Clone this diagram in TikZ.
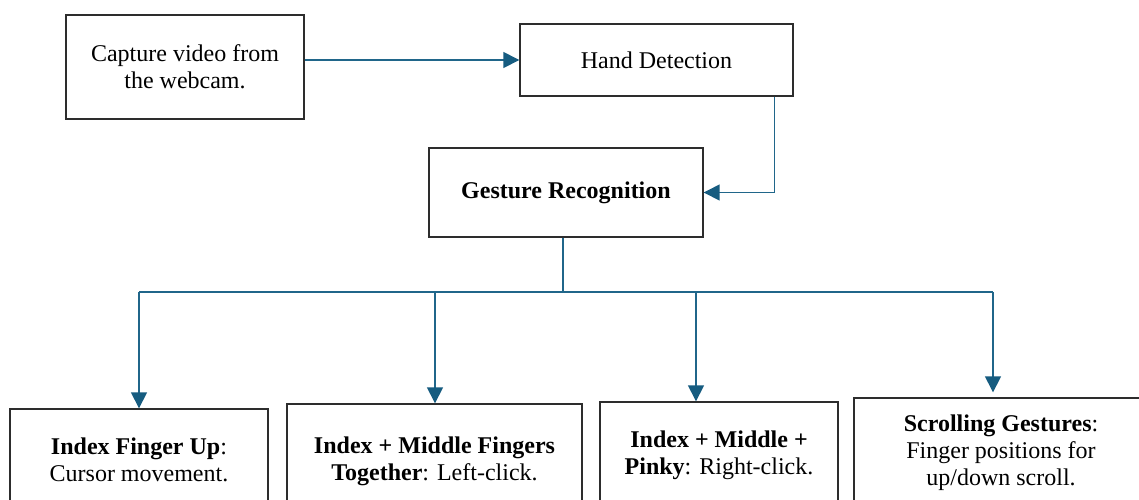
\documentclass[tikz,border=0pt]{standalone}
\usepackage{fontspec}
\setmainfont{Liberation Serif}
\usetikzlibrary{arrows.meta}
\definecolor{conncol}{RGB}{32,102,138}
\definecolor{tipcol}{RGB}{22,92,128}
\definecolor{boxcol}{RGB}{45,45,45}
\tikzset{
  stepbox/.style={draw=boxcol, line width=1.4pt, fill=white, align=center, inner sep=0pt,
    font=\fontsize{24}{27}\selectfont},
  conn/.style={draw=conncol, line width=1.5pt,
    -{Triangle[length=16pt,width=16pt,fill=tipcol,color=tipcol]}},
  bus/.style={draw=conncol, line width=1.5pt}
}
\begin{document}
\begin{tikzpicture}[x=1pt,y=-1pt]
\useasboundingbox (0,0) rectangle (1139,499);
\clip (0,0) rectangle (1139,499);
\fill[white] (0,0) rectangle (1139,499);
\node[stepbox, minimum width=238, minimum height=104] (cap) at (185,67) {Capture video from\\the webcam.};
\node[stepbox, minimum width=273, minimum height=72] (hand) at (656.5,60) {Hand Detection};
\node[stepbox, minimum width=274, minimum height=89] (gr) at (566,192.5) {\textbf{Gesture Recognition}};
\node[stepbox, minimum width=258, minimum height=102] (b1) at (139,460) {\textbf{Index Finger Up}:\\Cursor movement.};
\node[stepbox, minimum width=295, minimum height=114] (b2) at (434.5,461) {\textbf{Index + Middle Fingers}\\\textbf{Together}: Left-click.};
\node[stepbox, minimum width=238, minimum height=106] (b3) at (719,455) {\textbf{Index + Middle +}\\\textbf{Pinky}: Right-click.};
\node[stepbox, minimum width=294, minimum height=110] (b4) at (1001,453) {\textbf{Scrolling Gestures}:\\Finger positions for\\up/down scroll.};
% connectors
\draw[conn] (cap.east |- hand.west) -- (hand.west);
\coordinate (hd) at ([xshift=-19pt]hand.south east);
\draw[conn] (hd) |- (gr.east);
\coordinate (j) at ([xshift=-3pt]gr.south |- 0,292);
\coordinate (t1) at (139,292);
\coordinate (t2) at (435,292);
\coordinate (t3) at (696,292);
\coordinate (t4) at (993,292);
\draw[bus] ([xshift=-3pt]gr.south) -- (j);
\draw[bus] (t1) -- (t4);
\draw[conn] (t1) -- (t1 |- b1.north);
\draw[conn] (t2) -- (t2 |- b2.north);
\draw[conn] (t3) -- (t3 |- b3.north);
\draw[conn] (t4) -- ([yshift=5pt]t4 |- b4.north);
\end{tikzpicture}
\end{document}
